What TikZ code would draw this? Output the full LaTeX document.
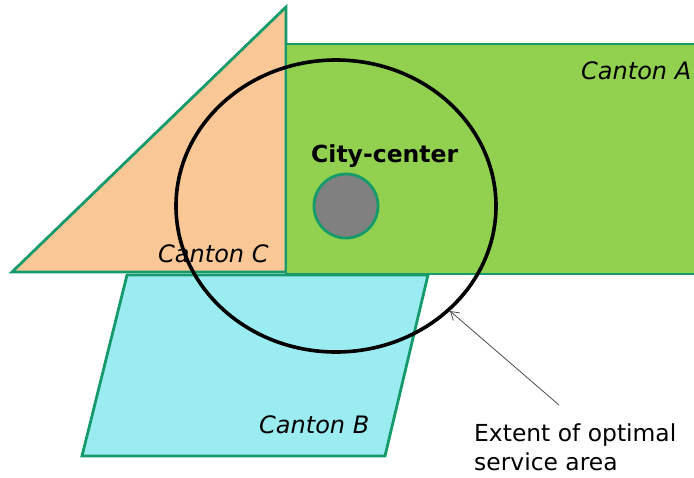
\documentclass[tikz,border=0pt]{standalone}
\usepackage{fontspec}
\setmainfont{DejaVu Sans}
\usetikzlibrary{arrows.meta}
\definecolor{cgreen}{HTML}{92D050}
\definecolor{cpeach}{HTML}{FAC796}
\definecolor{ccyan}{HTML}{9AECF0}
\definecolor{cedge}{HTML}{159A6C}
\definecolor{cgrey}{HTML}{808080}
\tikzset{
  region/.style={draw=cedge, line width=2.8pt, line join=miter},
  lbl/.style={inner sep=0pt, anchor=base west, font=\fontsize{24}{28}\selectfont\itshape},
  note/.style={inner sep=0pt, anchor=base west, align=left, font=\fontsize{23.4}{28.5}\selectfont},
  pointer/.style={draw=black!70, line width=0.8pt, -{Straight Barb[length=8pt,width=10pt]}}
}
\begin{document}
\begin{tikzpicture}[x=1pt,y=-1pt]
\useasboundingbox (0,0) rectangle (694,477);
\clip (0,0) rectangle (694,477);
% Canton B
\draw[region, fill=ccyan] (127,275) -- (428,275) -- (385,456) -- (82,456) -- cycle;
% Canton C
\draw[region, fill=cpeach] (12,272) -- (286,7) -- (286,272) -- cycle;
% Canton A
\draw[region, fill=cgreen] (286,44) rectangle (710,274);
% labels
\node[lbl] (ca) at (581,79) {Canton A};
\node[lbl] (cc) at (158,262) {Canton C};
\node[lbl] (cb) at (259,433) {Canton B};
\node[inner sep=0pt, anchor=base west, font=\fontsize{23.5}{28}\selectfont\bfseries] (cct) at (311,162) {City-center};
% city center
\node[circle, draw=cedge, line width=2.8pt, fill=cgrey, minimum size=64pt, inner sep=0pt] (city) at (346,206) {};
% service area
\draw[line width=3.6pt, black] (336,206) ellipse [x radius=160, y radius=146];
% note
\node[note] (ext) at (474,470) {Extent of optimal\\service area};
\coordinate (tail) at (559,405);
\coordinate (tip) at (450,311);
\draw[pointer] (tail) -- (tip);
\end{tikzpicture}
\end{document}
